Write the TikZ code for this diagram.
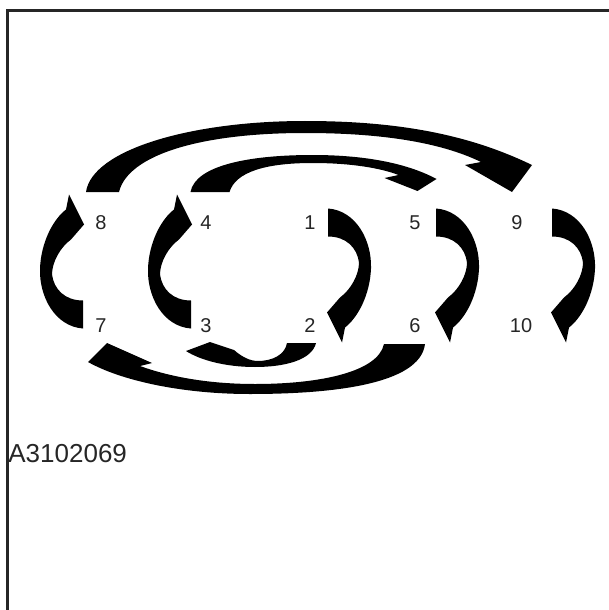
\documentclass[tikz,border=0pt]{standalone}
\usepackage{fontspec}
\setmainfont{Liberation Sans}
\usepackage{tikz}
\usetikzlibrary{positioning,calc}

\begin{document}
\begin{tikzpicture}[
  x=0.5pt, y=-0.5pt,
  num/.style={inner sep=0pt, font=\fontsize{10}{12}\selectfont, text=black!85},
  frame/.style={draw=black!85, line width=1.5pt},
  arrowfill/.style={fill=black},
  sidearrow/.pic={
    \fill[arrowfill] (18,-66) .. controls (46,-64) and (62,-34) .. (61,-6)
      .. controls (60,20) and (48,43) .. (35,53) -- (32,68) -- (17,38) -- (30,23)
      .. controls (41,15) and (49,0) .. (49,-12)
      .. controls (47,-27) and (36,-38) .. (18,-38) -- cycle;
  },
  bigtop/.pic={
    \fill[arrowfill] (-223,-31) .. controls (-217,-73) and (-119,-102) .. (-4,-102)
      .. controls (91,-102) and (161,-88) .. (223,-58) -- (203,-31) -- (156,-58) -- (172,-61)
      .. controls (131,-81) and (71,-90) .. (-4,-90)
      .. controls (-109,-90) and (-181,-68) .. (-190,-31) -- cycle;
  },
  smalltop/.pic={
    \fill[arrowfill] (-120,-31) .. controls (-115,-58) and (-60,-68) .. (2,-68)
      .. controls (60,-68) and (100,-58) .. (126,-44) -- (107,-32) -- (74,-45) -- (88,-48)
      .. controls (70,-55) and (40,-60) .. (2,-60)
      .. controls (-45,-60) and (-75,-51) .. (-81,-31) -- cycle;
  },
  smallbottom/.pic={
    \fill[arrowfill] (58,17) .. controls (54,34) and (27,41) .. (-3,41)
      .. controls (-33,41) and (-58,34) .. (-72,25) -- (-48,16) -- (-24,24)
      .. controls (-16,31) and (-8,35) .. (0,35)
      .. controls (14,35) and (27,29) .. (29,17) -- cycle;
  },
  bigbottom/.pic={
    \fill[arrowfill] (167,18) .. controls (162,59) and (72,68) .. (-8,68)
      .. controls (-78,68) and (-138,54) .. (-170,36) -- (-151,17) -- (-106,37) -- (-118,40)
      .. controls (-85,52) and (-45,58) .. (-3,58)
      .. controls (62,58) and (120,46) .. (126,18) -- cycle;
  },
  node distance=51.5pt and 52.5pt, on grid,
]
\useasboundingbox (0,0) rectangle (609,610);
\draw[frame] (7,610) |- (609,11);

% bolt numbers
\node[num] (n8) at (101,223) {8};
\node[num, right=of n8] (n4) {4};
\node[num, right=52pt of n4] (n1) {1};
\node[num, right=of n1] (n5) {5};
\node[num, right=51pt of n5] (n9) {9};
\node[num, below=of n8] (n7) {7};
\node[num, below=of n4] (n3) {3};
\node[num, below=of n1] (n2) {2};
\node[num, below=of n5] (n6) {6};
\node[num, below=of n9, xshift=2pt] (n10) {10};

% tightening order
\pic at ($(n1)!.5!(n2)$) {sidearrow};
\pic at ($(n2)!.5!(n3)$) {smallbottom};
\pic[rotate=180] at ($(n3)!.5!(n4)+(3,-12)$) {sidearrow};
\pic at ($(n4)!.5!(n5)$) {smalltop};
\pic at ($(n5)!.5!(n6)+(3,0)$) {sidearrow};
\pic at ($(n6)!.5!(n7)$) {bigbottom};
\pic[rotate=180] at ($(n7)!.5!(n8)+(0,-12)$) {sidearrow};
\pic at ($(n8)!.5!(n9)$) {bigtop};
\pic at ($(n9)!.5!(n10)+(15,0)$) {sidearrow};

\node[num, anchor=west, font=\fontsize{13}{15}\selectfont] (code) at (8,454) {A3102069};
\end{tikzpicture}
\end{document}
